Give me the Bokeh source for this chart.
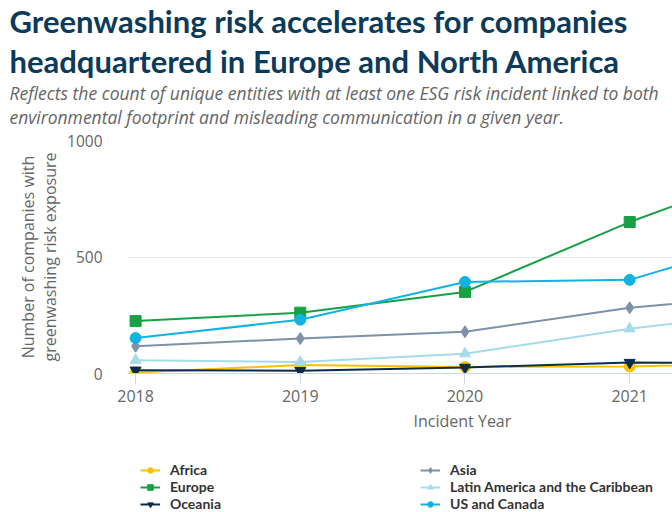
from bokeh.plotting import figure
from bokeh.layouts import column
from bokeh.models import Title, FixedTicker, Legend, LegendItem, Range1d, ColumnDataSource
from bokeh.embed import file_html
from bokeh.resources import INLINE

# ---- data ----
years = [2018, 2019, 2020, 2021, 2022]
africa = [4, 36, 28, 30, 45]
asia = [117, 150, 179, 282, 347]
europe = [225, 261, 350, 650, 910]
latin_america = [57, 49, 85, 192, 276]
oceania = [14, 12, 26, 47, 45]
us_canada = [152, 231, 393, 402, 613]

series_names = ["Africa", "Europe", "Oceania", "Asia",
                "Latin America and the Caribbean", "US and Canada"]
series_values = [africa, europe, oceania, asia, latin_america, us_canada]
series_colors = ["#f7c200", "#18a044", "#0b2d4a", "#7d91a8", "#a6dcea", "#12b2e2"]
series_markers = ["circle", "square", "inverted_triangle", "diamond", "triangle", "circle"]
series_sizes = [11, 11, 11, 12, 11, 11]

x_ticks = [2018, 2019, 2020, 2021]
y_ticks = [0, 500, 1000]

title_lines = ["Greenwashing risk accelerates for companies",
               "headquartered in Europe and North America"]
subtitle_lines = ["Reflects the count of unique entities with at least one ESG risk incident linked to both",
                  "environmental footprint and misleading communication in a given year."]

FONT = "Lato"
AXFONT = "Open Sans"

p = figure(width=672, height=456, output_backend="svg", toolbar_location=None,
           x_range=Range1d(2017.957, 2021.26), y_range=Range1d(0, 1000),
           min_border_left=128, min_border_right=0, min_border_top=0, min_border_bottom=83)
p.outline_line_color = None
p.background_fill_color = "white"
p.border_fill_color = "white"

# spacer then titles (added nearest-first)
p.add_layout(Title(text=" ", text_font_size="9px", standoff=0), "above")
p.add_layout(Title(text=subtitle_lines[1], text_font=AXFONT, text_font_style="italic",
                   text_font_size="17.5px", text_color="#666666", align="left",
                   offset=-119, standoff=-1), "above")
p.add_layout(Title(text=subtitle_lines[0], text_font=AXFONT, text_font_style="italic",
                   text_font_size="17.5px", text_color="#666666", align="left",
                   offset=-119, standoff=-2), "above")
p.add_layout(Title(text=title_lines[1], text_font=FONT, text_font_style="bold",
                   text_font_size="31px", text_color="#0c3a5a", align="left",
                   offset=-119, standoff=0), "above")
p.add_layout(Title(text=title_lines[0], text_font=FONT, text_font_style="bold",
                   text_font_size="31px", text_color="#0c3a5a", align="left",
                   offset=-119, standoff=-1), "above")

# axes
p.xaxis.ticker = FixedTicker(ticks=x_ticks)
p.xaxis.minor_tick_line_color = None
p.xaxis.major_tick_out = 10
p.xaxis.major_tick_in = 0
p.xaxis.major_tick_line_color = "#ccd6eb"
p.xaxis.axis_line_color = "#ccd6eb"
p.xaxis.major_label_text_font = AXFONT
p.xaxis.major_label_text_font_size = "16px"
p.xaxis.major_label_text_color = "#666666"
p.xaxis.major_label_standoff = 6

p.yaxis.ticker = FixedTicker(ticks=y_ticks)
p.yaxis.minor_tick_line_color = None
p.yaxis.major_tick_line_color = None
p.yaxis.axis_line_color = None
p.yaxis.major_label_text_font = AXFONT
p.yaxis.major_label_text_font_size = "15.5px"
p.yaxis.major_label_text_color = "#666666"
p.yaxis.major_label_standoff = 20
p.yaxis.axis_label = "Number of companies with\ngreenwashing risk exposure"
p.yaxis.axis_label_text_font = AXFONT
p.yaxis.axis_label_text_font_style = "normal"
p.yaxis.axis_label_text_font_size = "16px"
p.yaxis.axis_label_text_line_height = 1.0
p.yaxis.axis_label_text_color = "#666666"
p.yaxis.axis_label_standoff = 3

p.xgrid.grid_line_color = None
p.ygrid.grid_line_color = "#e6e6e6"

p.add_layout(Title(text="Incident Year", text_font=AXFONT, text_font_style="normal",
                   text_font_size="16px", text_color="#666666", align="left",
                   offset=285, standoff=6), "below")

sources = []
for vals, col, mk, sz in zip(series_values, series_colors, series_markers, series_sizes):
    src = ColumnDataSource(dict(x=years, y=vals))
    sources.append(src)
    p.line("x", "y", source=src, line_color=col, line_width=2)
    p.scatter("x", "y", source=src, marker=mk, size=sz, fill_color=col, line_color=col)

# ---- legend strip below the chart (hidden copies of the series feed the legend) ----
lg = figure(width=672, height=56, output_backend="svg", toolbar_location=None,
            x_axis_location=None, y_axis_location=None, min_border=0,
            x_range=p.x_range, y_range=Range1d(0, 1))
lg.outline_line_color = None
lg.xgrid.grid_line_color = None
lg.ygrid.grid_line_color = None
items = []
for name, src, col, mk, sz in zip(series_names, sources, series_colors, series_markers, series_sizes):
    lr = lg.line("x", "y", source=src, line_color=col, line_width=2, visible=False)
    sr = lg.scatter("x", "y", source=src, marker=mk, size=sz, fill_color=col,
                    line_color=col, visible=False)
    items.append(LegendItem(label=name, renderers=[lr, sr]))

legend = Legend(items=items, ncols=2, location=(12, 0),
                label_text_font=FONT, label_text_font_style="bold",
                label_text_font_size="14px", label_text_color="#333333",
                label_width=250, label_height=14, glyph_height=14, glyph_width=20,
                label_standoff=10, spacing=0, padding=0, margin=0,
                inactive_fill_alpha=0.0,
                border_line_color=None, background_fill_alpha=0)
lg.add_layout(legend, "center")

layout = column(p, lg, spacing=0)
open("out.html", "w").write(file_html(layout, INLINE))
